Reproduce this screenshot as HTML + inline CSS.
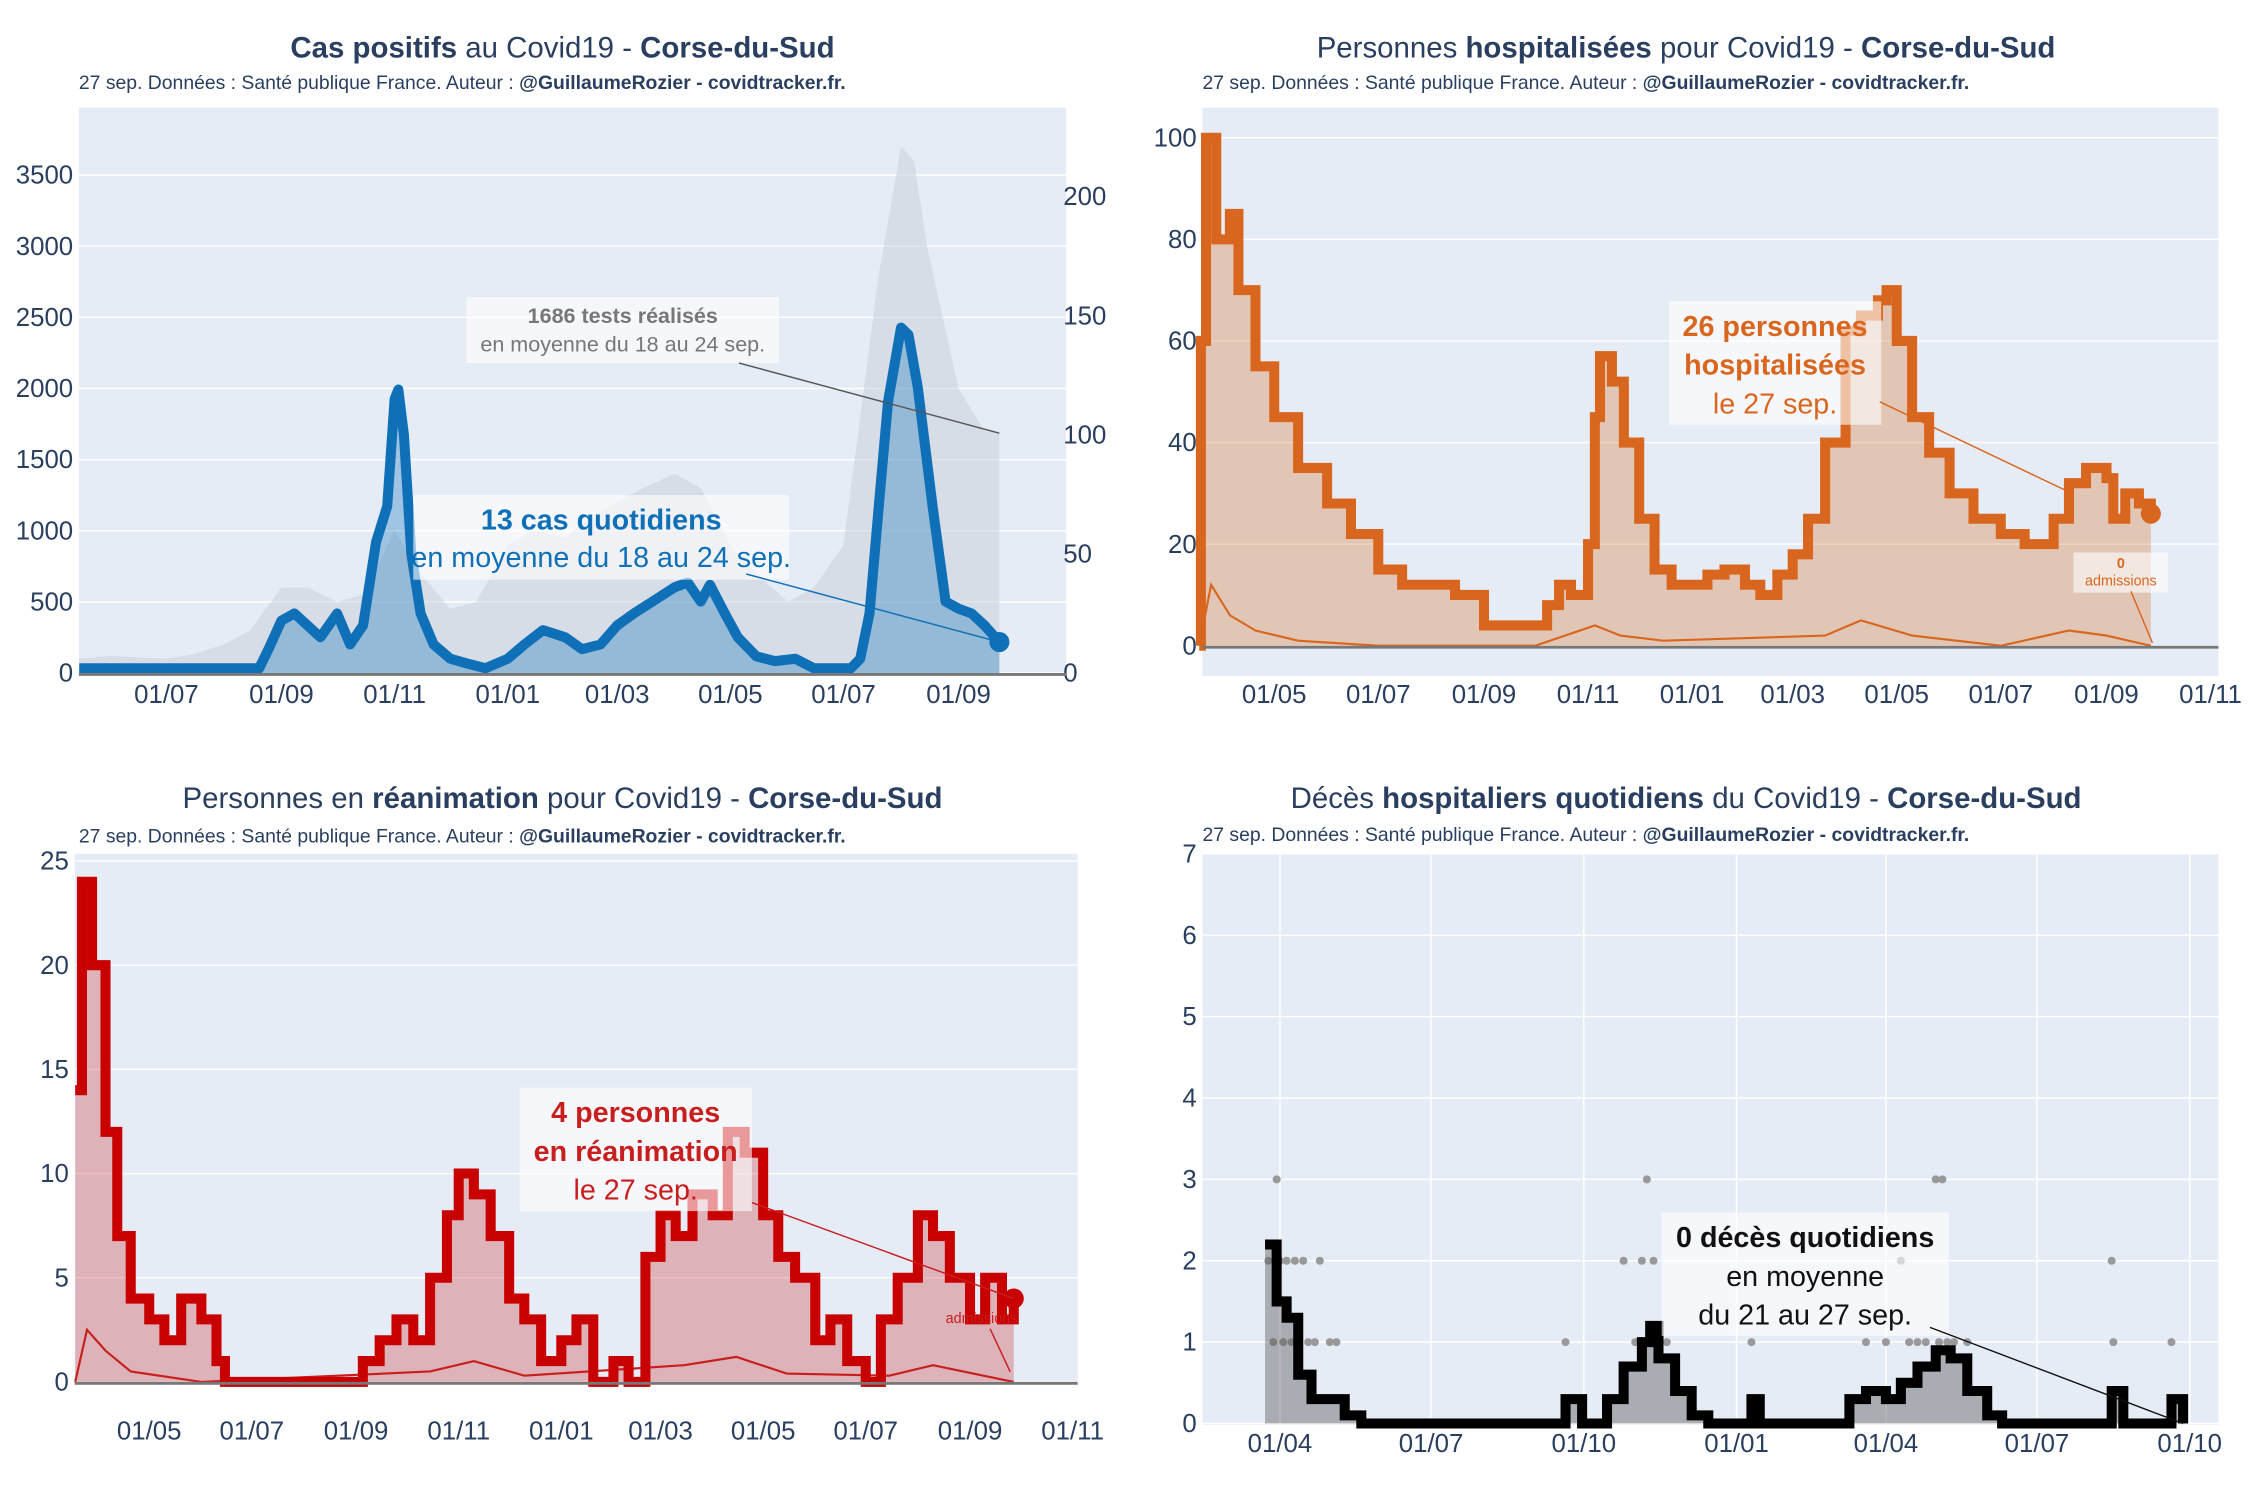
<!DOCTYPE html>
<html><head><meta charset="utf-8"><style>
html,body{margin:0;padding:0;background:#fff;}
svg{display:block;font-family:"Liberation Sans",sans-serif;}
</style></head><body>
<svg id="root" xmlns="http://www.w3.org/2000/svg" width="2250" height="1500" viewBox="0 0 1568 1045.3" preserveAspectRatio="none"></svg>
<script>
// ===== DATA =====
const casesDates=["2020-05-15","2020-08-20","2020-08-25","2020-09-01","2020-09-08","2020-09-15","2020-09-22","2020-10-01","2020-10-08","2020-10-15","2020-10-22","2020-10-28","2020-11-01","2020-11-03","2020-11-06","2020-11-10","2020-11-15","2020-11-22","2020-12-01","2020-12-10","2020-12-20","2021-01-01","2021-01-10","2021-01-20","2021-02-01","2021-02-10","2021-02-20","2021-03-01","2021-03-10","2021-03-20","2021-04-01","2021-04-08","2021-04-15","2021-04-20","2021-04-28","2021-05-05","2021-05-15","2021-05-25","2021-06-05","2021-06-15","2021-06-25","2021-07-05","2021-07-10","2021-07-15","2021-07-20","2021-07-25","2021-08-01","2021-08-05","2021-08-10","2021-08-18","2021-08-25","2021-09-01","2021-09-08","2021-09-15","2021-09-23"];
const casesValues=[2,2,10,22,25,20,15,25,12,20,55,70,115,119,100,50,25,12,6,4,2,6,12,18,15,10,12,20,25,30,36,38,30,37,25,15,7,5,6,2,2,2,6,25,70,114,145,142,120,70,30,27,25,20,13];
const testsDates=["2020-05-15","2020-06-01","2020-07-01","2020-07-15","2020-08-01","2020-08-15","2020-09-01","2020-09-15","2020-10-01","2020-10-15","2020-11-01","2020-11-15","2020-12-01","2020-12-15","2021-01-01","2021-01-15","2021-02-01","2021-02-15","2021-03-01","2021-03-15","2021-04-01","2021-04-15","2021-05-01","2021-05-15","2021-06-01","2021-06-15","2021-07-01","2021-07-10","2021-07-20","2021-08-01","2021-08-08","2021-08-15","2021-09-01","2021-09-15","2021-09-23"];
const testsValues=[100,120,100,130,200,300,600,600,500,550,1000,700,450,500,900,1000,950,1100,1200,1300,1400,1300,900,700,500,600,900,1800,2800,3700,3600,3000,2000,1700,1686];
const leftTicks=[0,500,1000,1500,2000,2500,3000,3500];
const rightTicks=[0,50,100,150,200];

const hospDates=["2020-03-18","2020-03-19","2020-03-22","2020-03-28","2020-04-05","2020-04-10","2020-04-20","2020-05-01","2020-05-15","2020-06-01","2020-06-15","2020-07-01","2020-07-15","2020-08-01","2020-08-15","2020-09-01","2020-09-15","2020-10-01","2020-10-08","2020-10-15","2020-10-22","2020-11-01","2020-11-05","2020-11-08","2020-11-15","2020-11-22","2020-12-01","2020-12-10","2020-12-20","2021-01-01","2021-01-10","2021-01-20","2021-02-01","2021-02-10","2021-02-20","2021-03-01","2021-03-10","2021-03-20","2021-04-01","2021-04-10","2021-04-20","2021-04-25","2021-05-01","2021-05-10","2021-05-20","2021-06-01","2021-06-15","2021-07-01","2021-07-15","2021-08-01","2021-08-10","2021-08-20","2021-09-01","2021-09-05","2021-09-12","2021-09-20","2021-09-27"];
const hospValues=[0,60,100,80,85,70,55,45,35,28,22,15,12,12,10,4,4,4,8,12,10,20,45,57,52,40,25,15,12,12,14,15,12,10,14,18,25,40,62,65,68,70,60,45,38,30,25,22,20,25,32,35,33,25,30,28,26];
const hospAdmDates=["2020-03-18","2020-03-25","2020-04-05","2020-04-20","2020-05-15","2020-07-01","2020-10-01","2020-11-05","2020-11-20","2020-12-15","2021-03-20","2021-04-10","2021-05-10","2021-07-01","2021-08-10","2021-09-01","2021-09-27"];
const hospAdmValues=[0,12,6,3,1,0,0,4,2,1,2,5,2,0,3,2,0];
const hospTicks=[0,20,40,60,80,100];

const reaDates=["2020-03-18","2020-03-22","2020-03-28","2020-04-05","2020-04-12","2020-04-20","2020-05-01","2020-05-10","2020-05-20","2020-06-01","2020-06-10","2020-06-15","2020-08-31","2020-09-05","2020-09-15","2020-09-25","2020-10-05","2020-10-15","2020-10-25","2020-11-01","2020-11-10","2020-11-20","2020-12-01","2020-12-10","2020-12-20","2021-01-01","2021-01-10","2021-01-20","2021-02-01","2021-02-10","2021-02-20","2021-03-01","2021-03-10","2021-03-20","2021-04-01","2021-04-10","2021-04-20","2021-05-01","2021-05-10","2021-05-20","2021-06-01","2021-06-10","2021-06-20","2021-07-01","2021-07-10","2021-07-20","2021-08-01","2021-08-10","2021-08-20","2021-09-01","2021-09-10","2021-09-20","2021-09-27"];
const reaValues=[14,24,20,12,7,4,3,2,4,3,1,0,0,1,2,3,2,5,8,10,9,7,4,3,1,2,3,0,1,0,6,8,7,9,8,12,11,8,6,5,2,3,1,0,3,5,8,7,5,3,5,3,4];
const reaAdmDates=["2020-03-18","2020-03-25","2020-04-05","2020-04-20","2020-06-01","2020-10-15","2020-11-10","2020-12-10","2021-03-15","2021-04-15","2021-05-15","2021-07-15","2021-08-10","2021-09-27"];
const reaAdmValues=[0,2.5,1.5,0.5,0,0.5,1,0.3,0.8,1.2,0.4,0.3,0.8,0];
const reaTicks=[0,5,10,15,20,25];

const decesDates=["2020-03-23","2020-03-30","2020-04-05","2020-04-12","2020-04-20","2020-05-01","2020-05-10","2020-05-20","2020-09-15","2020-09-20","2020-09-30","2020-10-15","2020-10-25","2020-11-05","2020-11-10","2020-11-15","2020-11-25","2020-12-05","2020-12-15","2021-01-05","2021-01-10","2021-01-15","2021-03-05","2021-03-10","2021-03-20","2021-04-01","2021-04-10","2021-04-20","2021-05-01","2021-05-10","2021-05-20","2021-06-01","2021-06-10","2021-08-10","2021-08-15","2021-08-22","2021-09-15","2021-09-20","2021-09-27"];
const decesValues=[2.2,1.5,1.3,0.6,0.3,0.3,0.1,0,0,0.3,0,0.3,0.7,1.0,1.2,0.8,0.4,0.1,0,0,0.3,0,0,0.3,0.4,0.3,0.5,0.7,0.9,0.8,0.4,0.1,0,0,0.4,0,0,0.3,0];
const decesDotDates=["2020-03-25","2020-03-28","2020-03-30","2020-04-01","2020-04-03","2020-04-05","2020-04-08","2020-04-10","2020-04-12","2020-04-15","2020-04-18","2020-04-22","2020-04-25","2020-05-01","2020-05-05","2020-09-20","2020-10-25","2020-11-01","2020-11-05","2020-11-08","2020-11-10","2020-11-12","2020-11-15","2020-11-20","2021-01-10","2021-03-20","2021-04-01","2021-04-10","2021-04-15","2021-04-20","2021-04-25","2021-05-01","2021-05-03","2021-05-05","2021-05-08","2021-05-12","2021-05-20","2021-08-15","2021-08-16","2021-09-20"];
const decesDotValues=[2,1,3,2,1,2,1,2,1,2,1,1,2,1,1,1,2,1,2,3,1,2,1,1,1,1,1,2,1,1,1,3,1,3,1,1,1,2,1,1];
const decesTicks=[0,1,2,3,4,5,6,7];

// ===== HELPERS =====
const NS="http://www.w3.org/2000/svg";
const root=document.getElementById('root');
function mk(tag,attrs,parent){const e=document.createElementNS(NS,tag);for(const k in attrs)e.setAttribute(k,attrs[k]);(parent||root).appendChild(e);return e;}
function t(s){return Date.parse(s);}
function dateAxis(d0,x0,d1,x1){const a=t(d0),b=t(d1);return s=>x0+(t(s)-a)/(b-a)*(x1-x0);}
function linAxis(v0,y0,v1,y1){return v=>y0+(v-v0)/(v1-v0)*(y1-y0);}
function linePath(dates,vals,xa,ya,step){let d="";dates.forEach((s,i)=>{const x=xa(s),y=ya(vals[i]);if(i===0)d+="M"+x+","+y;else if(step){d+="H"+x+"V"+y;}else d+="L"+x+","+y;});return d;}
function areaPath(dates,vals,xa,ya,step){const base=ya(0);return linePath(dates,vals,xa,ya,step)+"L"+xa(dates[dates.length-1])+","+base+"L"+xa(dates[0])+","+base+"Z";}
function frame(x,y,w,h){const r=mk('rect',{x:x,y:y,width:w,height:h,fill:'#e5ecf6'});}
function hgrid(ticks,ya,x0,x1,side,name){ticks.forEach(v=>{const y=ya(v);const g=mk('line',{x1:x0,x2:x1,y1:y,y2:y,stroke:'#fff','stroke-width':1});const tx=mk('text',{x:side==='r'?x1+4:x0-4,y:y+6,'font-size':18,fill:'#2a3f5f','text-anchor':side==='r'?'start':'end'});tx.textContent=v;});}
function xticks(labels,dates,xa,y,name){labels.forEach((l,i)=>{const tx=mk('text',{x:xa(dates[i]),y:y,'font-size':18,fill:'#2a3f5f','text-anchor':'middle'});tx.textContent=l;});}
function title(cx,y,parts,name){const tx=mk('text',{x:cx,y:y,'font-size':20.5,fill:'#2a3f5f','text-anchor':'middle'});parts.forEach(p=>{const s=mk('tspan',{'font-weight':p[1]?'bold':'normal'},tx);s.textContent=p[0];});}
function subtitle(x,y){const tx=mk('text',{x:x,y:y,'font-size':13.5,fill:'#2a3f5f'});const a=mk('tspan',{},tx);a.textContent="27 sep. Données : Santé publique France. Auteur : ";const b=mk('tspan',{'font-weight':'bold'},tx);b.textContent="@GuillaumeRozier - covidtracker.fr.";}
function annot(x,y,w,h,lines,color,name){const r=mk('rect',{x:x,y:y,width:w,height:h,fill:'rgba(255,255,255,0.6)'});lines.forEach(l=>{const tx=mk('text',{x:x+w/2,y:l[1],'font-size':l[2],fill:color,'text-anchor':'middle','font-weight':l[3]?'bold':'normal'});tx.textContent=l[0];});}
function pathEl(d,attrs,name){attrs.d=d;const p=mk('path',attrs);return p;}
function line(x1,y1,x2,y2,c,w,name){const l=mk('line',{x1:x1,y1:y1,x2:x2,y2:y2,stroke:c,'stroke-width':w});}

// ===== CHART 1: cas =====
(function(){
 frame(55,75,688,396);
 const xa=dateAxis("2020-07-01",116,"2021-09-01",668);
 const yl=linAxis(0,469,3500,122);
 const yr=linAxis(0,469,200,137);
 hgrid(leftTicks,yl,55,743,'l','y-left-tick');
 rightTicks.forEach(v=>{const tx=mk('text',{x:741,y:yr(v)+6,'font-size':18,fill:'#2a3f5f'});tx.textContent=v;});
 pathEl(areaPath(testsDates,testsValues,xa,yl,false),{fill:'rgba(200,205,215,0.5)',stroke:'none'},'tests-area');
 pathEl(areaPath(casesDates,casesValues,xa,yr,false),{fill:'rgba(30,120,190,0.35)',stroke:'none'},'cases-area');
 pathEl(linePath(casesDates,casesValues,xa,yr,false),{fill:'none',stroke:'#0f70b7','stroke-width':7,'stroke-linejoin':'round'},'cases-line');
 line(55,470,743,470,'#777',2,'x-axis-line');
 const last=casesDates.length-1;
 const c=mk('circle',{cx:xa(casesDates[last]),cy:yr(casesValues[last]),r:7,fill:'#0f70b7'});
 xticks(["01/07","01/09","01/11","01/01","01/03","01/05","01/07","01/09"],["2020-07-01","2020-09-01","2020-11-01","2021-01-01","2021-03-01","2021-05-01","2021-07-01","2021-09-01"],xa,490,'x-tick');
 title(392,40,[["Cas positifs",1],[" au Covid19 - ",0],["Corse-du-Sud",1]],'chart-title-cases');
 subtitle(55,62);
 annot(325,207,218,46,[["1686 tests réalisés",225,15,1],["en moyenne du 18 au 24 sep.",245,15,0]],'#777','tests-annotation');
 line(515,253,xa(testsDates[testsDates.length-1]),yl(1686),'#555',1,'tests-annotation-arrow');
 annot(288,345,262,59,[["13 cas quotidiens",369,20,1],["en moyenne du 18 au 24 sep.",395,20,0]],'#0f70b7','cases-annotation');
 line(520,400,xa(casesDates[last]),yr(casesValues[last]),'#0f70b7',1,'cases-annotation-arrow');
})();

// ===== CHART 2: hosp =====
(function(){
 frame(838,75,708,396);
 const xa=dateAxis("2020-05-01",888,"2021-09-01",1468);
 const ya=linAxis(0,450,100,96);
 hgrid(hospTicks,ya,838,1546,'l','y-tick');
 pathEl(areaPath(hospDates,hospValues,xa,ya,true),{fill:'rgba(217,110,30,0.3)',stroke:'none'},'hosp-area');
 pathEl(linePath(hospAdmDates,hospAdmValues,xa,ya,false),{fill:'none',stroke:'#d9661e','stroke-width':1.5},'admissions-line');
 pathEl(linePath(hospDates,hospValues,xa,ya,true),{fill:'none',stroke:'#d9661e','stroke-width':7},'hosp-line');
 line(838,451,1546,451,'#777',2,'x-axis-line');
 const last=hospDates.length-1;
 const c=mk('circle',{cx:xa(hospDates[last]),cy:ya(hospValues[last]),r:7,fill:'#d9661e'});
 xticks(["01/05","01/07","01/09","01/11","01/01","01/03","01/05","01/07","01/09","01/11"],["2020-05-01","2020-07-01","2020-09-01","2020-11-01","2021-01-01","2021-03-01","2021-05-01","2021-07-01","2021-09-01","2021-11-01"],xa,490,'x-tick');
 title(1175,40,[["Personnes ",0],["hospitalisées",1],[" pour Covid19 - ",0],["Corse-du-Sud",1]],'chart-title-hosp');
 subtitle(838,62);
 annot(1163,210,148,86,[["26 personnes",234,20,1],["hospitalisées",261,20,1],["le 27 sep.",288,20,0]],'#d9661e','hosp-annotation');
 line(1310,280,xa(hospDates[last])-55,ya(30),'#d9661e',1,'hosp-annotation-arrow');
 annot(1445,385,66,28,[["0",396,10,1],["admissions",408,10,0]],'#d9661e','admissions-annotation');
 line(1485,412,1500,448,'#d9661e',1,'admissions-arrow');
})();

// ===== CHART 3: rea =====
(function(){
 frame(52,595,699,370);
 const xa=dateAxis("2020-05-01",104,"2021-09-01",676);
 const ya=linAxis(0,963,25,600);
 hgrid(reaTicks,ya,52,751,'l','y-tick');
 pathEl(areaPath(reaDates,reaValues,xa,ya,true),{fill:'rgba(200,30,30,0.28)',stroke:'none'},'rea-area');
 pathEl(linePath(reaAdmDates,reaAdmValues,xa,ya,false),{fill:'none',stroke:'#c81e1e','stroke-width':1.5},'admissions-line');
 pathEl(linePath(reaDates,reaValues,xa,ya,true),{fill:'none',stroke:'#c80000','stroke-width':7},'rea-line');
 line(52,964,751,964,'#777',2,'x-axis-line');
 const last=reaDates.length-1;
 const c=mk('circle',{cx:xa(reaDates[last]),cy:ya(reaValues[last]),r:7,fill:'#c80000'});
 xticks(["01/05","01/07","01/09","01/11","01/01","01/03","01/05","01/07","01/09","01/11"],["2020-05-01","2020-07-01","2020-09-01","2020-11-01","2021-01-01","2021-03-01","2021-05-01","2021-07-01","2021-09-01","2021-11-01"],xa,1003,'x-tick');
 title(392,563,[["Personnes en ",0],["réanimation",1],[" pour Covid19 - ",0],["Corse-du-Sud",1]],'chart-title-rea');
 subtitle(55,587);
 annot(362,758,162,86,[["4 personnes",782,20,1],["en réanimation",809,20,1],["le 27 sep.",836,20,0]],'#c81e1e','rea-annotation');
 line(524,838,xa(reaDates[last]),ya(reaValues[last]),'#c81e1e',1,'rea-annotation-arrow');
 const at=mk('text',{x:684,y:922,'font-size':10,fill:'#c81e1e','text-anchor':'middle'});at.textContent="admissions";
 line(690,926,704,956,'#c81e1e',1,'admissions-arrow');
})();

// ===== CHART 4: deces =====
(function(){
 frame(838,595,708,398);
 const xa=dateAxis("2020-04-01",892,"2021-10-01",1526);
 const ya=linAxis(0,992,7,595);
 hgrid(decesTicks,ya,838,1546,'l','y-tick');
 ["2020-04-01","2020-07-01","2020-10-01","2021-01-01","2021-04-01","2021-07-01","2021-10-01"].forEach(s=>{line(xa(s),595,xa(s),993,'#fff',1,'x-gridline');});
 decesDotDates.forEach((s,i)=>{const c=mk('circle',{cx:xa(s),cy:ya(decesDotValues[i]),r:2.8,fill:'#999'});});
 pathEl(areaPath(decesDates,decesValues,xa,ya,true),{fill:'rgba(80,80,80,0.4)',stroke:'none'},'deces-area');
 pathEl(linePath(decesDates,decesValues,xa,ya,true),{fill:'none',stroke:'#000','stroke-width':7},'deces-line');
 xticks(["01/04","01/07","01/10","01/01","01/04","01/07","01/10"],["2020-04-01","2020-07-01","2020-10-01","2021-01-01","2021-04-01","2021-07-01","2021-10-01"],xa,1012,'x-tick');
 title(1175,563,[["Décès ",0],["hospitaliers quotidiens",1],[" du Covid19 - ",0],["Corse-du-Sud",1]],'chart-title-deces');
 subtitle(838,586);
 annot(1158,845,200,86,[["0 décès quotidiens",869,20,1],["en moyenne",896,20,0],["du 21 au 27 sep.",923,20,0]],'#111','deces-annotation');
 line(1345,925,xa(decesDates[decesDates.length-1]),ya(0),'#111',1,'deces-annotation-arrow');
})();
</script>
</body></html>
